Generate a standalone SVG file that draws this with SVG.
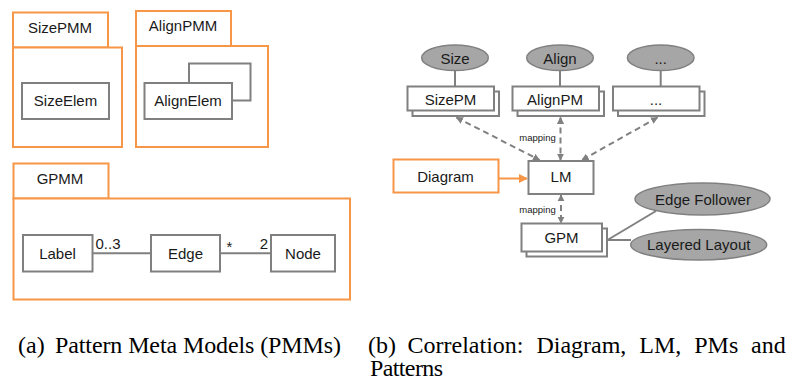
<svg xmlns="http://www.w3.org/2000/svg" width="789" height="383" viewBox="0 0 789 383">
<style>
.pkg{fill:#fff;stroke:#F79646;stroke-width:2}
.box{fill:#fff;stroke:#808080;stroke-width:2}
.ell{fill:#A6A6A6;stroke:#808080;stroke-width:1.5}
.t{font-family:"Liberation Sans",Arial,sans-serif;font-size:15px;fill:#1a1a1a;text-anchor:middle}
.s{font-family:"Liberation Sans",Arial,sans-serif;font-size:9.5px;fill:#1a1a1a;text-anchor:middle}
.ln{stroke:#808080;stroke-width:2;fill:none}
.dash{stroke:#808080;stroke-width:2;fill:none;stroke-dasharray:6,4;marker-start:url(#ah);marker-end:url(#ah)}
.cap{font-family:"Liberation Serif","Times New Roman",serif;font-size:24px;fill:#000}
</style>
<defs>
<marker id="ah" viewBox="0 0 10 10" refX="9" refY="5" markerWidth="3.6" markerHeight="3.6" orient="auto-start-reverse" markerUnits="strokeWidth">
<path d="M0,0 L10,5 L0,10 z" fill="#808080"/>
</marker>
<marker id="oah" viewBox="0 0 10 10" refX="9" refY="5" markerWidth="4.5" markerHeight="4.5" orient="auto" markerUnits="strokeWidth">
<path d="M0,0 L10,5 L0,10 z" fill="#F79646"/>
</marker>
</defs>

<g id="SizePMM">
<rect class="pkg" x="13" y="12.5" width="95" height="35"/>
<rect class="pkg" x="13" y="47.5" width="109" height="99.5"/>
<text class="t" x="60" y="33">SizePMM</text>
</g>
<g id="SizeElem">
<rect class="box" x="22" y="83" width="87" height="36"/>
<text class="t" x="65.5" y="106">SizeElem</text>
</g>

<g id="AlignPMM">
<rect class="pkg" x="136" y="11" width="95" height="35"/>
<rect class="pkg" x="136" y="46" width="132" height="101"/>
<text class="t" x="183" y="31">AlignPMM</text>
</g>
<g id="AlignElem">
<polyline class="ln" points="189,83 189,63.5 250.5,63.5 250.5,100.5 232,100.5"/>
<rect class="box" x="144.5" y="83" width="87.5" height="36"/>
<text class="t" x="188" y="106">AlignElem</text>
</g>

<g id="GPMM">
<rect class="pkg" x="13.5" y="163.5" width="95" height="35"/>
<rect class="pkg" x="13.5" y="198.5" width="336.5" height="101"/>
<text class="t" x="60" y="184">GPMM</text>
</g>
<g id="Label">
<rect class="box" x="23" y="235" width="69.5" height="36.5"/>
<text class="t" x="57.5" y="258.5">Label</text>
</g>
<g id="Edge">
<rect class="box" x="151" y="235" width="69" height="36.5"/>
<text class="t" x="185.5" y="258.5">Edge</text>
</g>
<g id="Node">
<rect class="box" x="271" y="235" width="64" height="36.5"/>
<text class="t" x="303" y="258.5">Node</text>
</g>

<g id="Size">
<ellipse class="ell" cx="455" cy="57.8" rx="33.3" ry="12.8"/>
<text class="t" x="455" y="63.5">Size</text>
</g>
<g id="Align">
<ellipse class="ell" cx="560" cy="57.8" rx="33.3" ry="12.8"/>
<text class="t" x="560" y="63.5">Align</text>
</g>
<g id="More">
<ellipse class="ell" cx="660.7" cy="57.8" rx="33.3" ry="12.8"/>
<text class="t" x="660.7" y="63.5">...</text>
</g>

<g id="SizePM">
<rect class="box" x="412.5" y="91.5" width="86.5" height="24.5"/>
<rect class="box" x="407.5" y="86.5" width="86.5" height="24"/>
<text class="t" x="450.5" y="104.5">SizePM</text>
</g>
<g id="AlignPM">
<rect class="box" x="517.5" y="91.5" width="86.5" height="24.5"/>
<rect class="box" x="512.5" y="86.5" width="86.5" height="24"/>
<text class="t" x="555" y="104.5">AlignPM</text>
</g>
<g id="MorePM">
<rect class="box" x="618" y="91.5" width="86.5" height="24.5"/>
<rect class="box" x="613" y="86.5" width="86.5" height="24"/>
<text class="t" x="656" y="104.5">...</text>
</g>

<g id="Diagram">
<rect class="pkg" x="393.5" y="159.5" width="105" height="33"/>
<text class="t" x="445.5" y="181.5">Diagram</text>
</g>
<g id="LM">
<rect class="box" x="528.5" y="161" width="65" height="33"/>
<text class="t" x="561" y="182">LM</text>
</g>
<g id="GPM">
<rect class="box" x="526.5" y="228.5" width="80.5" height="28"/>
<rect class="box" x="521.5" y="223.5" width="80.5" height="28"/>
<text class="t" x="561.5" y="243">GPM</text>
</g>
<g id="EdgeFollower">
<ellipse class="ell" cx="702.5" cy="199" rx="67.5" ry="16"/>
<text class="t" x="703" y="204.5">Edge Follower</text>
</g>
<g id="LayeredLayout">
<ellipse class="ell" cx="698.7" cy="244.7" rx="68" ry="15.3"/>
<text class="t" x="698.7" y="250">Layered Layout</text>
</g>

<g id="connectors">
<line class="ln" x1="92.5" y1="253.3" x2="151" y2="253.3"/>
<line class="ln" x1="220" y1="253.3" x2="271" y2="253.3"/>
<text class="t" x="108" y="248.5">0..3</text>
<text class="t" x="229.5" y="252">*</text>
<text class="t" x="264" y="248.5">2</text>

<line class="ln" x1="455" y1="70.6" x2="455" y2="86.5"/>
<line class="ln" x1="560" y1="70.6" x2="560" y2="86.5"/>
<line class="ln" x1="660.7" y1="70.6" x2="660.7" y2="86.5"/>

<line class="dash" x1="456.5" y1="117.5" x2="539.5" y2="160"/>
<line class="dash" x1="560.5" y1="117.5" x2="560.5" y2="160"/>
<line class="dash" x1="657.5" y1="117.5" x2="582" y2="160"/>
<text class="s" x="537.5" y="141">mapping</text>

<line class="dash" x1="561" y1="195" x2="561" y2="223"/>
<text class="s" x="537.5" y="212.5">mapping</text>

<line x1="498.5" y1="178.5" x2="527" y2="178.5" stroke="#F79646" stroke-width="2" marker-end="url(#oah)"/>

<line class="ln" x1="607.5" y1="240" x2="656" y2="211"/>
<line class="ln" x1="607.5" y1="240" x2="631" y2="240"/>
</g>

<g id="captions">
<text class="cap" x="18" y="352.5">(a)</text>
<text class="cap" x="55" y="352.5" textLength="286">Pattern Meta Models (PMMs)</text>
<text class="cap" x="368" y="352.5">(b)</text>
<text class="cap" x="407.5" y="352.5">Correlation:</text>
<text class="cap" x="536.4" y="352.5">Diagram,</text>
<text class="cap" x="639.3" y="352.5">LM,</text>
<text class="cap" x="694.2" y="352.5">PMs</text>
<text class="cap" x="751.1" y="352.5">and</text>
<text class="cap" x="370" y="376" textLength="73">Patterns</text>
</g>
</svg>
